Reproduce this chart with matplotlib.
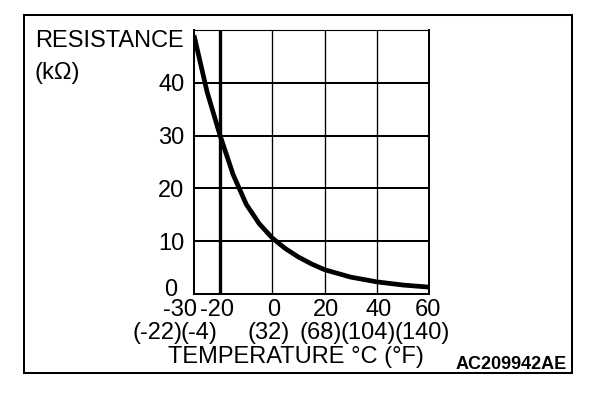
import matplotlib
matplotlib.use("Agg")
import matplotlib.pyplot as plt
from matplotlib.patches import Rectangle
from matplotlib.transforms import ScaledTranslation, blended_transform_factory

# ---- data ----
temp_c = [-30, -25, -20, -15, -10, -5, 0, 5, 10, 15, 20, 30, 40, 50, 60]
resistance_kohm = [49.0, 38.3, 30.0, 22.6, 17.0, 13.3, 10.6, 8.6, 7.0, 5.7, 4.6, 3.2, 2.3, 1.7, 1.3]

x_ticks_c = [-30, -20, 0, 20, 40, 60]
x_labels_c = ["-30", "-20", "0", "20", "40", "60"]
x_labels_f = ["(-22)", "(-4)", "(32)", "(68)", "(104)", "(140)"]
y_ticks = [0, 10, 20, 30, 40]
y_labels = ["0", "10", "20", "30", "40"]
v_grid = [0, 20, 40, 60]
h_grid = [10, 20, 30, 40]
marked_temp = -20

y_title = ["RESISTANCE", "(kΩ)"]
x_title = "TEMPERATURE °C (°F)"
code_label = "AC209942AE"

# ---- layout / style (pixels) ----
W, H = 608, 394
FS = 17
c_label_dx = [-14, -3, 1, 1, 1.5, -1]
f_label_dx = [-37, -21, -3.5, -4, -9, -7]

plt.rcParams["font.family"] = ["Liberation Sans", "DejaVu Sans"]
fig = plt.figure(figsize=(W / 100, H / 100), dpi=100)

ax = fig.add_axes([194 / W, 1 - 294 / H, 235 / W, 264 / H])
ax.set_xlim(-30, 60)
ax.set_ylim(0, 50)

for g in v_grid:
    ax.axvline(g, color="black", lw=0.95, zorder=1)
for g in h_grid:
    ax.axhline(g, color="black", lw=1.45, zorder=1)
ax.axvline(marked_temp, color="black", lw=2.4, zorder=2)
ax.plot(temp_c, resistance_kohm, color="black", lw=3.4, zorder=3,
        solid_joinstyle="round", solid_capstyle="butt")

for side, lw in (("left", 1.45), ("bottom", 1.45), ("right", 1.45), ("top", 0.8)):
    ax.spines[side].set_linewidth(lw)
    ax.spines[side].set_color("black")

ax.set_yticks(y_ticks, y_labels, fontsize=FS)
ax.set_xticks(x_ticks_c, x_labels_c, fontsize=FS)
ax.tick_params(axis="both", length=0, colors="black")
ax.tick_params(axis="y", pad=7.0)
ax.tick_params(axis="x", pad=3.4)

# shift labels to match the reference placement
for lab, dx in zip(ax.get_xticklabels(), c_label_dx):
    lab.set_transform(lab.get_transform() + ScaledTranslation(dx / 100, 0, fig.dpi_scale_trans))
ylabs = ax.get_yticklabels()
ylabs[0].set_transform(ylabs[0].get_transform() + ScaledTranslation(-7 / 100, 7 / 100, fig.dpi_scale_trans))

blend = blended_transform_factory(ax.transData, ax.transAxes)
for x, lab, dx in zip(x_ticks_c, x_labels_f, f_label_dx):
    ax.text(x, 0, lab, fontsize=FS, ha="center", va="top",
            transform=blend + ScaledTranslation(dx / 100, -27.5 / 100, fig.dpi_scale_trans),
            clip_on=False)

# outer frame
fig.patches.append(Rectangle((24 / W, 1 - 373 / H), 548 / W, 358 / H,
                             transform=fig.transFigure, fill=False, lw=1.45, ec="black"))

fig.text(35 / W, 1 - 46.7 / H, y_title[0], fontsize=FS, ha="left", va="baseline")
fig.text(35 / W, 1 - 78.5 / H, y_title[1], fontsize=FS, ha="left", va="baseline")
fig.text(168 / W, 1 - 363.5 / H, x_title, fontsize=FS, ha="left", va="baseline")
fig.text(567 / W, 1 - 369.3 / H, code_label, fontsize=13, fontweight="bold",
         ha="right", va="baseline")

fig.savefig("out.png", dpi=100)
